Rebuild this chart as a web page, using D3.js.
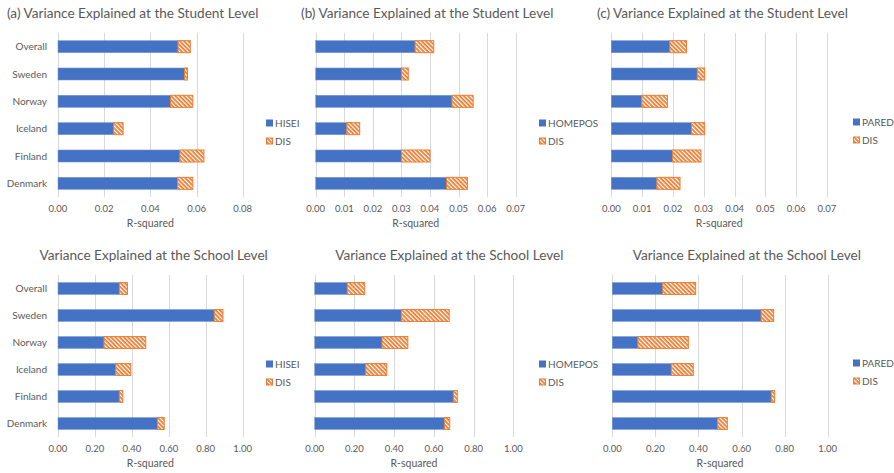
<!DOCTYPE html>
<html>
<head>
<meta charset="utf-8">
<script src="https://cdn.jsdelivr.net/npm/d3@7"></script>
<style>
  body { margin: 0; background: #fff; }
  svg text { font-family: Lato, "Open Sans", sans-serif; fill: #595959; }
</style>
</head>
<body>
<svg id="chart" width="894" height="473"></svg>
<script>
// categories, top to bottom
const countries = ["Overall", "Sweden", "Norway", "Iceland", "Finland", "Denmark"];

// student level (stacked: predictor + DIS increment)
const hiseiStudent   = [0.052, 0.0548, 0.0487, 0.024, 0.0528, 0.0518];
const disStudentA    = [0.0053, 0.0013, 0.0097, 0.0042, 0.0104, 0.0066];
const homeposStudent = [0.0348, 0.030, 0.0477, 0.0109, 0.030, 0.0458];
const disStudentB    = [0.0065, 0.0024, 0.0074, 0.0045, 0.010, 0.0073];
const paredStudent   = [0.019, 0.0279, 0.0099, 0.026, 0.0199, 0.0148];
const disStudentC    = [0.0054, 0.0024, 0.0083, 0.0043, 0.0092, 0.0075];

// school level
const hiseiSchool   = [0.332, 0.846, 0.249, 0.313, 0.332, 0.538];
const disSchoolA    = [0.044, 0.047, 0.226, 0.081, 0.019, 0.037];
const homeposSchool = [0.164, 0.436, 0.339, 0.257, 0.698, 0.653];
const disSchoolB    = [0.088, 0.241, 0.130, 0.106, 0.020, 0.027];
const paredSchool   = [0.234, 0.691, 0.119, 0.274, 0.738, 0.489];
const disSchoolC    = [0.153, 0.058, 0.234, 0.102, 0.016, 0.045];

const studentTicks = [0, 0.01, 0.02, 0.03, 0.04, 0.05, 0.06, 0.07];
const studentTicksA = [0, 0.02, 0.04, 0.06, 0.08];
const schoolTicks = [0, 0.2, 0.4, 0.6, 0.8, 1.0];

const BLUE = "#4472c4";
const ORANGE = "#ed7d31";

const svg = d3.select("#chart");

// hatch pattern for DIS (downward diagonal)
const defs = svg.append("defs");
const pat = defs.append("pattern")
  .attr("id", "hatch")
  .attr("patternUnits", "userSpaceOnUse")
  .attr("width", 3).attr("height", 3)
  .attr("patternTransform", "rotate(-45)");
pat.append("rect").attr("width", 3).attr("height", 3).attr("fill", ORANGE);
pat.append("rect").attr("x", 0).attr("width", 1.2).attr("height", 3).attr("fill", "#fff");

const panels = [
  { title: "(a) Variance Explained at the Student Level", titleX: 7, titleAnchor: "start", titleY: 18,
    x0: 58, x1: 242.7, top: 33, bottom: 197, max: 0.08, ticks: studentTicksA, fmt: d3.format(".2f"),
    main: hiseiStudent, dis: disStudentA, name: "HISEI", showCats: true, legX: 266, legY: 123 },
  { title: "(b) Variance Explained at the Student Level", titleX: 301, titleAnchor: "start", titleY: 18,
    x0: 315.7, x1: 515.7, top: 33, bottom: 197, max: 0.07, ticks: studentTicks, fmt: d3.format(".2f"),
    main: homeposStudent, dis: disStudentB, name: "HOMEPOS", showCats: false, legX: 539, legY: 123 },
  { title: "(c) Variance Explained at the Student Level", titleX: 597, titleAnchor: "start", titleY: 18,
    x0: 611.3, x1: 827, top: 33, bottom: 197, max: 0.07, ticks: studentTicks, fmt: d3.format(".2f"),
    main: paredStudent, dis: disStudentC, name: "PARED", showCats: false, legX: 853, legY: 122 },
  { title: "Variance Explained at the School Level", titleX: 153.7, titleAnchor: "middle", titleY: 260,
    x0: 58, x1: 242.7, top: 275, bottom: 437, max: 1.0, ticks: schoolTicks, fmt: d3.format(".2f"),
    main: hiseiSchool, dis: disSchoolA, name: "HISEI", showCats: true, legX: 266, legY: 364 },
  { title: "Variance Explained at the School Level", titleX: 449.3, titleAnchor: "middle", titleY: 260,
    x0: 314.7, x1: 513.3, top: 275, bottom: 437, max: 1.0, ticks: schoolTicks, fmt: d3.format(".2f"),
    main: homeposSchool, dis: disSchoolB, name: "HOMEPOS", showCats: false, legX: 539, legY: 364 },
  { title: "Variance Explained at the School Level", titleX: 746.8, titleAnchor: "middle", titleY: 260,
    x0: 612.3, x1: 827.7, top: 275, bottom: 437, max: 1.0, ticks: schoolTicks, fmt: d3.format(".2f"),
    main: paredSchool, dis: disSchoolC, name: "PARED", showCats: false, legX: 853, legY: 363 }
];

panels.forEach(drawPanel);

function drawPanel(p) {
  const g = svg.append("g");
  const x = d3.scaleLinear().domain([0, p.max]).range([p.x0, p.x1]);
  const y = d3.scaleBand().domain(countries).range([p.top, p.bottom]).paddingInner(0.56).paddingOuter(0.28);

  // title
  g.append("text")
    .attr("x", p.titleX).attr("y", p.titleY)
    .attr("text-anchor", p.titleAnchor)
    .style("font-size", "13.6px")
    .text(p.title);

  // gridlines
  g.selectAll(".grid")
    .data(p.ticks)
    .join("line")
    .attr("x1", d => Math.round(x(d)) + 0.5).attr("x2", d => Math.round(x(d)) + 0.5)
    .attr("y1", p.top).attr("y2", p.bottom)
    .attr("stroke", "#d9d9d9").attr("stroke-width", 1);

  // x tick labels
  g.selectAll(".tick")
    .data(p.ticks)
    .join("text")
    .attr("x", d => x(d)).attr("y", p.bottom + 15)
    .attr("text-anchor", "middle")
    .style("font-size", "9.5px")
    .text(p.fmt);

  g.append("text")
    .attr("x", (p.x0 + p.x1) / 2).attr("y", p.bottom + 30)
    .attr("text-anchor", "middle")
    .style("font-size", "10.5px")
    .text("R-squared");

  // category labels
  if (p.showCats) {
    g.selectAll(".cat")
      .data(countries)
      .join("text")
      .attr("x", p.x0 - 11)
      .attr("y", d => y(d) + y.bandwidth() / 2)
      .attr("dy", "0.35em")
      .attr("text-anchor", "end")
      .style("font-size", "10px")
      .text(d => d);
  }

  // bars
  const rows = countries.map((c, i) => ({ c, main: p.main[i], dis: p.dis[i] }));
  g.selectAll(".main")
    .data(rows)
    .join("rect")
    .attr("x", x(0))
    .attr("y", d => y(d.c))
    .attr("width", d => x(d.main) - x(0))
    .attr("height", y.bandwidth())
    .attr("fill", BLUE)
    .attr("stroke", "#6f93d2").attr("stroke-width", 0.5);

  g.selectAll(".dis")
    .data(rows)
    .join("rect")
    .attr("x", d => x(d.main))
    .attr("y", d => y(d.c))
    .attr("width", d => x(d.main + d.dis) - x(d.main))
    .attr("height", y.bandwidth())
    .attr("fill", "url(#hatch)")
    .attr("stroke", ORANGE).attr("stroke-width", 1);

  // legend
  const leg = g.append("g").attr("transform", `translate(${p.legX},${p.legY})`);
  leg.append("rect").attr("x", 0).attr("y", -3.5).attr("width", 7).attr("height", 7).attr("fill", BLUE);
  leg.append("text").attr("x", 9).attr("y", 0).attr("dy", "0.35em").style("font-size", "10px").text(p.name);
  leg.append("rect").attr("x", 0.5).attr("y", 15).attr("width", 6).attr("height", 6)
    .attr("fill", "url(#hatch)").attr("stroke", ORANGE).attr("stroke-width", 1);
  leg.append("text").attr("x", 9).attr("y", 18).attr("dy", "0.35em").style("font-size", "10px").text("DIS");
}
</script>
</body>
</html>
